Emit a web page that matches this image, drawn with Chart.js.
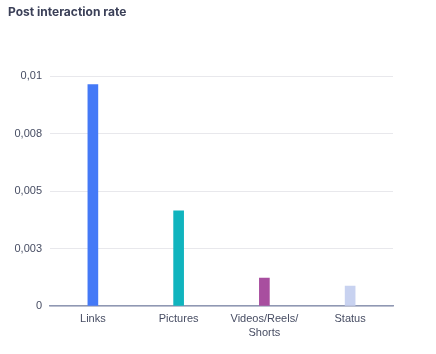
<!DOCTYPE html>
<html>
<head>
<meta charset="utf-8">
<script src="https://cdn.jsdelivr.net/npm/chart.js@4"></script>
<style>
  html, body { margin:0; padding:0; background:#fff; }
  #wrap { width:436px; height:354px; position:relative; }
</style>
</head>
<body>
<div id="wrap"><canvas id="rateChart"></canvas></div>
<script>
const categories = ['Links', 'Pictures', ['Videos/Reels/', 'Shorts'], 'Status'];
const rates = [0.00964, 0.00414, 0.00122, 0.00087];
const barColors = ['#4479f7', '#10b4be', '#a84e9f', '#c8d2f0'];
const yTicks = [0, 0.0025, 0.005, 0.0075, 0.01];
const yTickLabels = ['0', '0,003', '0,005', '0,008', '0,01'];

new Chart(document.getElementById('rateChart'), {
  type:'bar',
  data:{labels:categories,datasets:[{
    label:'Post interaction rate',
    data:rates,
    backgroundColor:barColors,
    borderWidth:0,
    barThickness:10
  }]},
  options:{
    responsive:true,
    maintainAspectRatio:false,
    animation:false,
    layout:{padding:{left:8,right:43,top:0,bottom:0}},
    plugins:{
      legend:{display:false},
      tooltip:{enabled:false},
      title:{
        display:true,
        text:'Post interaction rate',
        align:'start',
        color:'#3b4058',
        font:{family:'Inter',size:12,weight:'bold'},
        padding:{top:5,bottom:57}
      }
    },
    scales:{
      x:{
        grid:{display:false,drawTicks:false},
        border:{color:'#8f98b3',width:1.5},
        ticks:{color:'#474d63',font:{family:'Liberation Sans',size:11,lineHeight:1.36},padding:5,maxRotation:0,autoSkip:false},
        afterFit:s => { s.height = 48; }
      },
      y:{
        min:0,
        max:0.01,
        afterBuildTicks:s => { s.ticks = yTicks.map(v => ({value:v})); },
        grid:{color:'#e8e8ec',drawTicks:false},
        border:{display:false},
        ticks:{
          color:'#474d63',
          font:{family:'Liberation Sans',size:11},
          padding:8,
          callback:(v, i) => yTickLabels[i]
        },
        afterFit:s => { s.width = 42; }
      }
    }
  }
});
</script>
</body>
</html>
